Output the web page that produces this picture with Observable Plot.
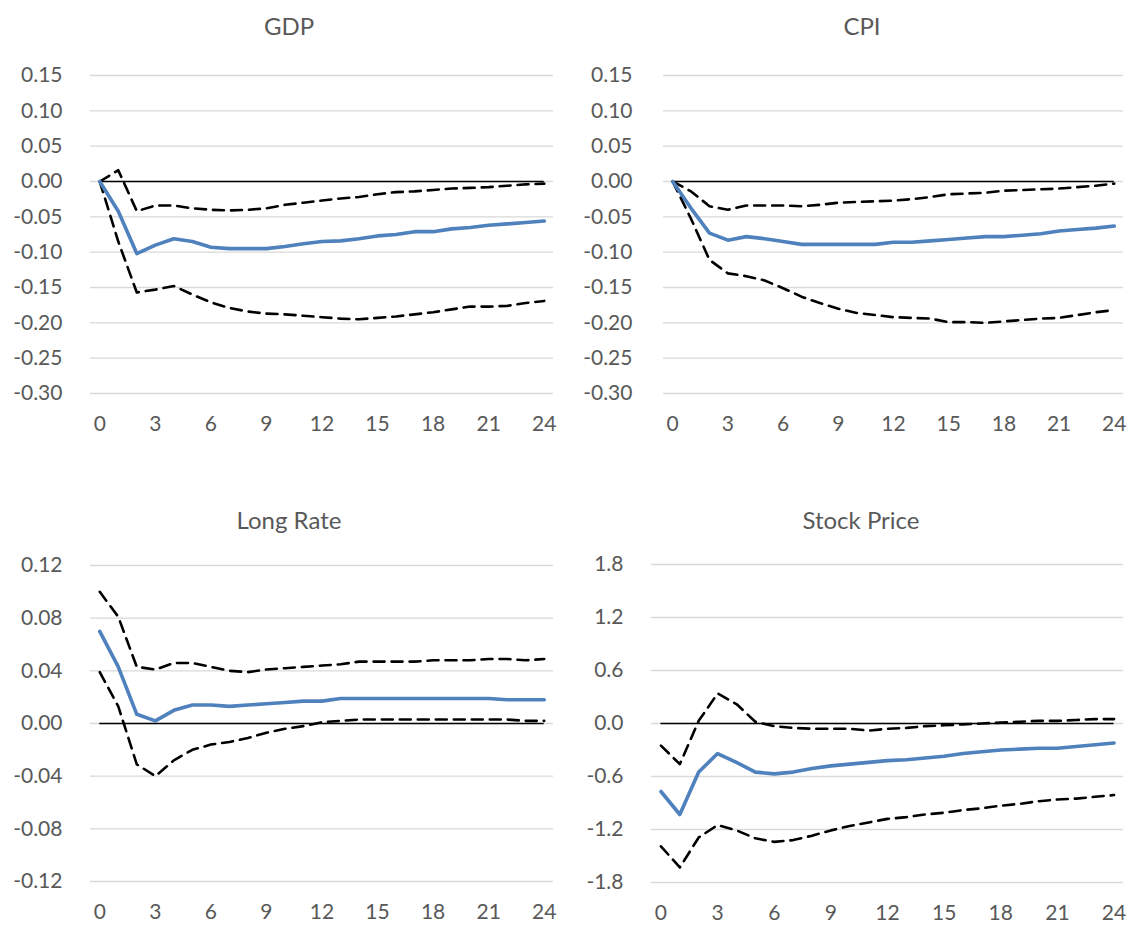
<!DOCTYPE html>
<html>
<head>
<meta charset="utf-8">
<script src="https://cdn.jsdelivr.net/npm/d3@7"></script>
<script src="https://cdn.jsdelivr.net/npm/@observablehq/plot@0.6"></script>
<style>
  html, body { margin: 0; padding: 0; background: #ffffff; }
  #chart { position: relative; width: 1131px; height: 926px; font-family: Lato, "Open Sans", sans-serif; color: #595959; }
  .panel { position: absolute; }
  .title { position: absolute; font-size: 24px; line-height: 1; transform: translate(-50%, -50%); white-space: nowrap; color: #595959; }
</style>
</head>
<body>
<div id="chart"></div>
<script>
// Horizon (months after the shock) and x-axis tick labels
const months = [0, 1, 2, 3, 4, 5, 6, 7, 8, 9, 10, 11, 12, 13, 14, 15, 16, 17, 18, 19, 20, 21, 22, 23, 24];
const xTicks = [0, 3, 6, 9, 12, 15, 18, 21, 24];

// GDP response: median and error bands
const gdpMedian = [0, -0.042, -0.102, -0.090, -0.081, -0.085, -0.093, -0.095, -0.095, -0.095, -0.092, -0.088, -0.085, -0.084, -0.081, -0.077, -0.075, -0.071, -0.071, -0.067, -0.065, -0.062, -0.060, -0.058, -0.056];
const gdpUpper = [0, 0.016, -0.042, -0.034, -0.034, -0.038, -0.040, -0.041, -0.040, -0.038, -0.033, -0.030, -0.027, -0.024, -0.022, -0.018, -0.015, -0.014, -0.012, -0.010, -0.009, -0.008, -0.006, -0.004, -0.003];
const gdpLower = [0, -0.085, -0.157, -0.153, -0.148, -0.160, -0.171, -0.179, -0.184, -0.187, -0.188, -0.190, -0.192, -0.194, -0.195, -0.193, -0.191, -0.188, -0.185, -0.181, -0.177, -0.177, -0.176, -0.172, -0.169];

// CPI response
const cpiMedian = [0, -0.038, -0.073, -0.083, -0.078, -0.081, -0.085, -0.089, -0.089, -0.089, -0.089, -0.089, -0.086, -0.086, -0.084, -0.082, -0.080, -0.078, -0.078, -0.076, -0.074, -0.070, -0.068, -0.066, -0.063];
const cpiUpper = [0, -0.014, -0.035, -0.040, -0.034, -0.034, -0.034, -0.035, -0.033, -0.030, -0.029, -0.028, -0.027, -0.025, -0.022, -0.018, -0.017, -0.016, -0.013, -0.012, -0.011, -0.010, -0.008, -0.006, -0.003];
const cpiLower = [0, -0.053, -0.111, -0.130, -0.134, -0.140, -0.151, -0.163, -0.172, -0.180, -0.186, -0.189, -0.192, -0.193, -0.194, -0.199, -0.199, -0.200, -0.198, -0.196, -0.194, -0.193, -0.189, -0.185, -0.182];

// Long-rate response
const rateMedian = [0.070, 0.043, 0.007, 0.002, 0.010, 0.014, 0.014, 0.013, 0.014, 0.015, 0.016, 0.017, 0.017, 0.019, 0.019, 0.019, 0.019, 0.019, 0.019, 0.019, 0.019, 0.019, 0.018, 0.018, 0.018];
const rateUpper = [0.100, 0.081, 0.043, 0.041, 0.046, 0.046, 0.043, 0.040, 0.039, 0.041, 0.042, 0.043, 0.044, 0.045, 0.047, 0.047, 0.047, 0.047, 0.048, 0.048, 0.048, 0.049, 0.049, 0.048, 0.049];
const rateLower = [0.039, 0.013, -0.031, -0.040, -0.028, -0.020, -0.016, -0.014, -0.011, -0.007, -0.004, -0.002, 0.001, 0.002, 0.003, 0.003, 0.003, 0.003, 0.003, 0.003, 0.003, 0.003, 0.003, 0.002, 0.002];

// Stock-price response
const stockMedian = [-0.77, -1.03, -0.55, -0.34, -0.44, -0.55, -0.57, -0.55, -0.51, -0.48, -0.46, -0.44, -0.42, -0.41, -0.39, -0.37, -0.34, -0.32, -0.30, -0.29, -0.28, -0.28, -0.26, -0.24, -0.22];
const stockUpper = [-0.25, -0.46, 0.03, 0.34, 0.22, 0.02, -0.03, -0.05, -0.06, -0.06, -0.06, -0.08, -0.06, -0.05, -0.03, -0.02, -0.01, 0.00, 0.01, 0.02, 0.03, 0.03, 0.04, 0.05, 0.05];
const stockLower = [-1.39, -1.63, -1.29, -1.15, -1.21, -1.30, -1.34, -1.32, -1.27, -1.21, -1.16, -1.12, -1.08, -1.06, -1.03, -1.01, -0.98, -0.96, -0.93, -0.91, -0.88, -0.86, -0.85, -0.83, -0.81];

// Y-axis tick labels per panel
const gdpTicks = [-0.30, -0.25, -0.20, -0.15, -0.10, -0.05, 0.00, 0.05, 0.10, 0.15];
const cpiTicks = [-0.30, -0.25, -0.20, -0.15, -0.10, -0.05, 0.00, 0.05, 0.10, 0.15];
const rateTicks = [-0.12, -0.08, -0.04, 0.00, 0.04, 0.08, 0.12];
const stockTicks = [-1.8, -1.2, -0.6, 0.0, 0.6, 1.2, 1.8];

const chartEl = document.getElementById("chart");

function panel(cfg) {
  const rows = months.map((m, i) => ({month: m, median: cfg.median[i], upper: cfg.upper[i], lower: cfg.lower[i]}));
  const fmt = d => (Math.abs(d) < 1e-9 ? 0 : d).toFixed(cfg.digits);
  const dash = {stroke: "#000000", strokeWidth: 2.6, strokeDasharray: "11,7", strokeLinejoin: "round"};
  const svg = Plot.plot({
    width: cfg.width,
    height: cfg.height,
    marginLeft: cfg.ml,
    marginRight: cfg.mr,
    marginTop: cfg.mt,
    marginBottom: cfg.mb,
    style: {fontFamily: "Lato, 'Open Sans', sans-serif", fontSize: "21px", color: "#595959", background: "transparent", overflow: "visible"},
    x: {domain: [months[0] - 0.5, months[months.length - 1] + 0.5], ticks: xTicks, tickFormat: d => String(d), tickSize: 0, tickPadding: 23, label: null},
    y: {domain: [cfg.ticks[0], cfg.ticks[cfg.ticks.length - 1]], ticks: cfg.ticks, tickFormat: fmt, tickSize: 0, tickPadding: cfg.yPad, label: null},
    marks: [
      Plot.gridY(cfg.ticks, {stroke: "#d9d9d9", strokeOpacity: 1, strokeWidth: 1.3}),
      Plot.ruleY([0], {x1: months[0], x2: months[months.length - 1], stroke: "#000000", strokeWidth: 1.3}),
      Plot.lineY(rows, {x: "month", y: "lower", ...dash}),
      Plot.lineY(rows, {x: "month", y: "upper", ...dash}),
      Plot.lineY(rows, {x: "month", y: "median", stroke: "#4f81bd", strokeWidth: 3.6, strokeLinejoin: "round", strokeLinecap: "round"})
    ]
  });
  const wrap = document.createElement("div");
  wrap.className = "panel";
  wrap.style.left = cfg.left + "px";
  wrap.style.top = cfg.top + "px";
  wrap.appendChild(svg);
  chartEl.appendChild(wrap);

  const t = document.createElement("div");
  t.className = "title";
  t.textContent = cfg.title;
  t.style.left = cfg.tx + "px";
  t.style.top = cfg.ty + "px";
  chartEl.appendChild(t);
}

panel({title: "GDP", median: gdpMedian, upper: gdpUpper, lower: gdpLower, ticks: gdpTicks, digits: 2,
  left: 0, top: 50, width: 565, height: 400, ml: 90, mr: 12, mt: 25, mb: 57, yPad: 28, tx: 289, ty: 26});
panel({title: "CPI", median: cpiMedian, upper: cpiUpper, lower: cpiLower, ticks: cpiTicks, digits: 2,
  left: 565, top: 50, width: 566, height: 400, ml: 98, mr: 8, mt: 25, mb: 57, yPad: 31, tx: 862, ty: 26});
panel({title: "Long Rate", median: rateMedian, upper: rateUpper, lower: rateLower, ticks: rateTicks, digits: 2,
  left: 0, top: 540, width: 565, height: 386, ml: 90, mr: 12, mt: 25, mb: 45, yPad: 28, tx: 289, ty: 520});
panel({title: "Stock Price", median: stockMedian, upper: stockUpper, lower: stockLower, ticks: stockTicks, digits: 1,
  left: 565, top: 540, width: 566, height: 386, ml: 86, mr: 8, mt: 24, mb: 44, yPad: 28, tx: 861, ty: 520});
</script>
</body>
</html>
